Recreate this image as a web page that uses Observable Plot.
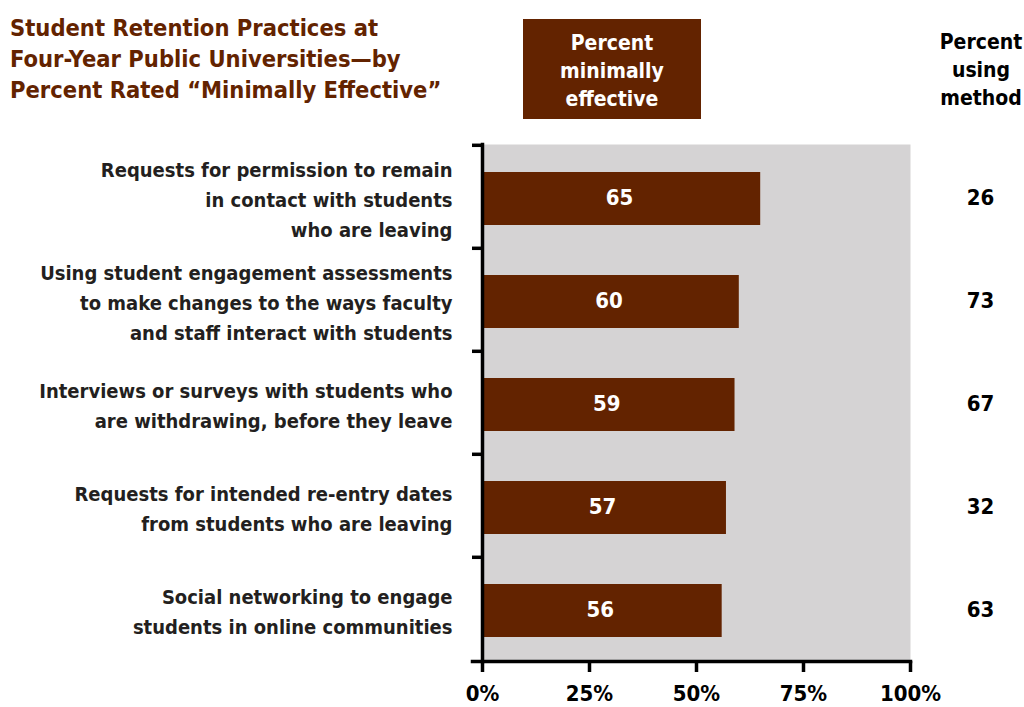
<!DOCTYPE html>
<html>
<head>
<meta charset="utf-8">
<script src="https://cdn.jsdelivr.net/npm/d3@7"></script>
<script src="https://cdn.jsdelivr.net/npm/@observablehq/plot@0.6"></script>
<style>
  body { margin: 0; background: #fff; }
  #chart { position: relative; width: 1024px; font-family: "Liberation Sans Narrow", "DejaVu Sans Condensed", "Roboto Condensed", sans-serif; font-stretch: condensed; }
  #head { position: relative; width: 1024px; height: 130px; }
  #title { position: absolute; left: 10px; top: 13px; font-size: 23.5px; line-height: 31px; font-weight: bold; color: #632300; white-space: nowrap; }
  #boxHead { position: absolute; left: 523px; top: 19px; width: 178px; height: 100px; background: #632300; color: #fff; font-size: 21px; line-height: 28px; font-weight: bold; text-align: center; box-sizing: border-box; padding-top: 10px; }
  #rightHead { position: absolute; left: 921px; width: 120px; top: 28px; color: #000; font-size: 21px; line-height: 28px; font-weight: bold; text-align: center; }
  svg { display: block; }
</style>
</head>
<body>
<div id="chart">
  <div id="head">
    <div id="title">Student Retention Practices at<br>Four-Year Public Universities—by<br>Percent Rated “Minimally Effective”</div>
    <div id="boxHead">Percent<br>minimally<br>effective</div>
    <div id="rightHead">Percent<br>using<br>method</div>
  </div>
</div>
<script>
// Retention practices, ranked by share rating them minimally effective
const practices = [
  "Requests for permission to remain\nin contact with students\nwho are leaving",
  "Using student engagement assessments\nto make changes to the ways faculty\nand staff interact with students",
  "Interviews or surveys with students who\nare withdrawing, before they leave",
  "Requests for intended re-entry dates\nfrom students who are leaving",
  "Social networking to engage\nstudents in online communities"
];
const minimallyEffective = [65, 60, 59, 57, 56];
const usingMethod = [26, 73, 67, 32, 63];
const xTicks = [0, 25, 50, 75, 100];

const rows = practices.map((p, i) => ({practice: p, effective: minimallyEffective[i], using: usingMethod[i]}));

const brown = "#632300";
const fontFamily = '"Liberation Sans Narrow", "DejaVu Sans Condensed", "Roboto Condensed", sans-serif';
const plotHeight = 577, marginTop = 14, marginBottom = 46;
const step = (plotHeight - marginTop - marginBottom) / practices.length;

const chart = Plot.plot({
  width: 1024,
  height: plotHeight,
  marginTop,
  marginBottom,
  marginLeft: 482,
  marginRight: 114,
  style: {fontFamily, fontWeight: "bold", color: "#000", background: "#fff"},
  x: {domain: [0, 100]},
  y: {domain: practices, padding: 0},
  marks: [
    Plot.frame({fill: "#d5d3d4", stroke: null}),
    Plot.barX(rows, {y: "practice", x: "effective", fill: brown, insetTop: 27, insetBottom: 23}),
    Plot.text(rows, {y: "practice", x: d => d.effective / 2, text: d => String(d.effective), fill: "#fff", fontSize: 22, fontWeight: "bold", dy: 1, dx: -2}),
    Plot.text(rows, {y: "practice", text: d => String(d.using), frameAnchor: "right", textAnchor: "middle", dx: 70, fill: "#000", fontSize: 22, fontWeight: "bold", dy: 1}),
    Plot.text(rows, {y: "practice", text: "practice", frameAnchor: "left", textAnchor: "end", dx: -30, fill: "#231f20", fontSize: 20, fontWeight: "bold", lineHeight: 1.5}),
    // boundary ticks between practices on the left axis
    Plot.axisY({tickSize: 10, tickFormat: () => "", label: null, dy: -step / 2, strokeWidth: 3.5, stroke: "#000"}),
    Plot.axisX({ticks: xTicks, tickSize: 11, tickPadding: 13, tickFormat: d => d + "%", fontSize: 22, fontWeight: "bold", strokeWidth: 3.5, stroke: "#000", fill: "#000", label: null}),
    Plot.frame({anchor: "left", stroke: "#000", strokeWidth: 3.5}),
    Plot.frame({anchor: "bottom", stroke: "#000", strokeWidth: 3.5, insetLeft: -10})
  ]
});
document.getElementById("chart").appendChild(chart);
</script>
</body>
</html>
